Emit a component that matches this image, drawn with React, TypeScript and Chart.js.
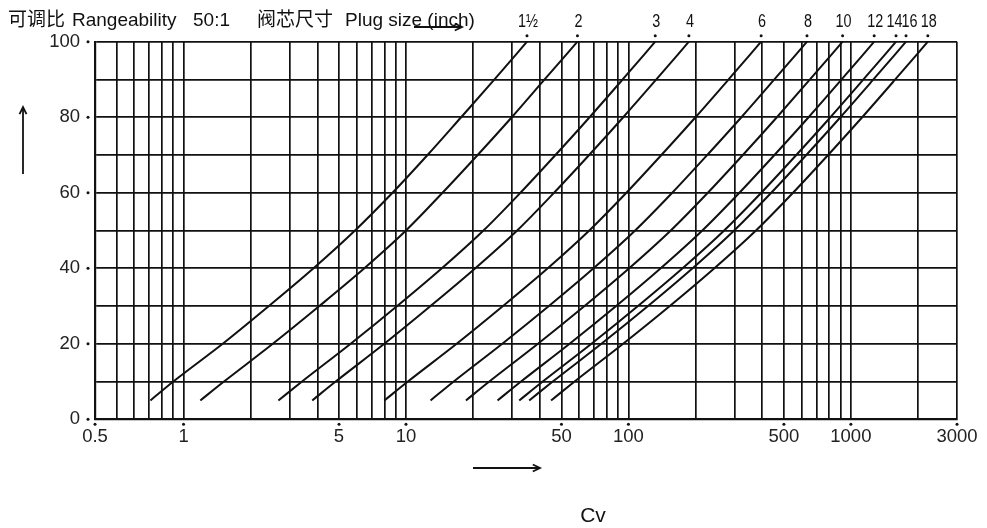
import React, { useEffect, useRef } from 'react';
import { Chart, registerables } from 'chart.js';

Chart.register(...registerables);

// Valve opening (%) at which Cv values were read
const openingPct = [5, 10, 20, 30, 40, 50, 60, 70, 80, 90, 100];

// Plug sizes (inch)
const plugSizes = ['1½', '2', '3', '4', '6', '8', '10', '12', '14', '16', '18'];

// Cv values at openingPct
const cv1_5 = [0.71, 0.9, 1.5, 2.42, 3.84, 5.9, 8.7, 12.5, 17.7, 25, 35];
const cv2 = [1.19, 1.52, 2.52, 4.08, 6.5, 10, 14.6, 21, 29.9, 42, 59];
const cv3 = [2.67, 3.41, 5.64, 9.13, 14.5, 22.3, 32.7, 47, 66.9, 94.2, 132];
const cv4 = [3.79, 4.83, 7.99, 12.9, 20.5, 31.6, 46.3, 66.6, 94.8, 133.5, 187];
const cv6 = [8.0, 10.2, 16.9, 27.3, 43.4, 66.7, 97.9, 140.7, 200.3, 282, 395];
const cv8 = [12.9, 16.4, 27.1, 43.9, 69.7, 107.2, 157.4, 226.2, 322, 453, 635];
const cv10 = [18.6, 23.7, 39.2, 63.5, 100.8, 155, 227.5, 327, 465, 655, 918];
const cv12 = [25.8, 32.9, 54.4, 88.1, 139.7, 214.9, 315.5, 453.4, 645.4, 908.7, 1273];
const cv14 = [32.3, 41.2, 68.2, 110.4, 175.2, 269.4, 395.5, 568.5, 809.2, 1139, 1596];
const cv16 = [35.8, 45.7, 75.6, 122.5, 194.3, 298.8, 438.6, 630.5, 897.4, 1263, 1770];
const cv18 = [44.9, 57.3, 94.7, 153.5, 243.5, 374.4, 549.6, 790, 1124.5, 1583, 2218];

const cvSeries = [cv1_5, cv2, cv3, cv4, cv6, cv8, cv10, cv12, cv14, cv16, cv18];

// X axis (Cv, logarithmic) grid lines
const xGridValues = [
  0.4, 0.5, 0.6, 0.7, 0.8, 0.9,
  1, 2, 3, 4, 5, 6, 7, 8, 9,
  10, 20, 30, 40, 50, 60, 70, 80, 90,
  100, 200, 300, 400, 500, 600, 700, 800, 900,
  1000, 2000, 3000,
];
const xTickLabelValues = [0.4, 1, 5, 10, 50, 100, 500, 1000, 3000];
const xTickLabels = ['0.5', '1', '5', '10', '50', '100', '500', '1000', '3000'];

// Y axis (opening %)
const yLabelValues = [0, 20, 40, 60, 80, 100];

const titleParts = ['可调比', 'Rangeability', '50:1', '阀芯尺寸', 'Plug size (inch)'];
const xAxisTitle = 'Cv';

const FONT = '"Liberation Sans", Arial, "Noto Sans CJK SC", sans-serif';
const INK = '#111';

function dot(ctx: CanvasRenderingContext2D, x: number, y: number, r: number) {
  ctx.beginPath();
  ctx.arc(x, y, r, 0, Math.PI * 2);
  ctx.fill();
}

function arrow(ctx: CanvasRenderingContext2D, x1: number, y1: number, x2: number, y2: number) {
  ctx.beginPath();
  ctx.moveTo(x1, y1);
  ctx.lineTo(x2, y2);
  ctx.stroke();
  const a = Math.atan2(y2 - y1, x2 - x1);
  const L = 8;
  ctx.beginPath();
  ctx.moveTo(x2 - L * Math.cos(a - 0.45), y2 - L * Math.sin(a - 0.45));
  ctx.lineTo(x2, y2);
  ctx.lineTo(x2 - L * Math.cos(a + 0.45), y2 - L * Math.sin(a + 0.45));
  ctx.stroke();
}

const overlayPlugin = {
  id: 'overlay',
  afterDraw(chart: any) {
    const ctx: CanvasRenderingContext2D = chart.ctx;
    const xs = chart.scales.x;
    const ys = chart.scales.y;
    const area = chart.chartArea;
    ctx.save();
    ctx.fillStyle = INK;
    ctx.strokeStyle = INK;
    ctx.lineWidth = 1.8;

    xTickLabelValues.forEach((v) => dot(ctx, xs.getPixelForValue(v), area.bottom + 5, 1.5));
    yLabelValues.forEach((v) => dot(ctx, area.left - 7, ys.getPixelForValue(v), 1.5));

    // plug size labels (condensed) above end dots; spread apart where crowded
    const ends = cvSeries.map((s) => xs.getPixelForValue(s[s.length - 1]));
    const pos = ends.map((p) => p + 1);
    const minGap = 15;
    for (let it = 0; it < 20; it++) {
      for (let i = 1; i < pos.length; i++) {
        const d = pos[i] - pos[i - 1];
        if (d < minGap) {
          const sh = (minGap - d) / 2;
          pos[i - 1] -= sh;
          pos[i] += sh;
        }
      }
    }
    ctx.font = '18px ' + FONT;
    ctx.textAlign = 'center';
    ctx.textBaseline = 'middle';
    ends.forEach((px, i) => {
      dot(ctx, px, area.top - 6, 1.5);
      ctx.save();
      ctx.translate(pos[i], area.top - 20);
      ctx.scale(0.8, 1);
      ctx.fillText(plugSizes[i], 0, 0);
      ctx.restore();
    });

    // title
    ctx.textAlign = 'left';
    ctx.textBaseline = 'alphabetic';
    ctx.font = '19px ' + FONT;
    const titleX = [8, 72, 193, 257, 345];
    titleParts.forEach((t, i) => ctx.fillText(t, titleX[i], 26));

    // arrows
    ctx.lineWidth = 1.8;
    arrow(ctx, 414, 27, 462, 27);
    arrow(ctx, 23, 174, 23, 107);
    arrow(ctx, 473, 468, 540, 468);

    // axis title
    ctx.textAlign = 'center';
    ctx.textBaseline = 'middle';
    ctx.font = '21px ' + FONT;
    ctx.fillText(xAxisTitle, 593, 516);
    ctx.restore();
  },
};

export default function App() {
  const ref = useRef<HTMLCanvasElement | null>(null);
  useEffect(() => {
    if (!ref.current) return;
    const chart = new Chart(ref.current, {
      type: 'line',
      data: {
        datasets: cvSeries.map((s, i) => ({
          label: plugSizes[i],
          data: s.map((cv, j) => ({ x: cv, y: openingPct[j] })),
          borderColor: INK,
          borderWidth: 2,
          pointRadius: 0,
          fill: false,
          cubicInterpolationMode: 'monotone' as const,
        })),
      },
      options: {
        animation: false,
        responsive: false,
        devicePixelRatio: 1,
        parsing: false as any,
        layout: { padding: { top: 41.7, right: 30, bottom: 0, left: 0 } },
        plugins: { legend: { display: false }, tooltip: { enabled: false }, title: { display: false } },
        scales: {
          x: {
            type: 'logarithmic',
            min: 0.4,
            max: 3000,
            afterBuildTicks: (axis: any) => {
              axis.ticks = xGridValues.map((v) => ({ value: v }));
            },
            afterFit: (axis: any) => {
              axis.height = 108.7;
            },
            ticks: {
              autoSkip: false,
              maxRotation: 0,
              minRotation: 0,
              padding: 7,
              color: '#222',
              font: { family: FONT, size: 18.5 },
              callback: (v: any) => {
                const k = xTickLabelValues.indexOf(Number(v));
                return k >= 0 ? xTickLabels[k] : '';
              },
            },
            grid: { color: INK, lineWidth: 1.7, drawTicks: false },
            border: { display: true, color: INK, width: 2.2 },
          },
          y: {
            type: 'linear',
            min: 0,
            max: 100,
            afterFit: (axis: any) => {
              axis.width = 95;
            },
            ticks: {
              stepSize: 10,
              padding: 15,
              color: '#222',
              font: { family: FONT, size: 18.5 },
              callback: (v: any) => (yLabelValues.includes(Number(v)) ? String(v) : ''),
            },
            grid: { color: INK, lineWidth: 1.7, drawTicks: false },
            border: { display: true, color: INK, width: 2.2 },
          },
        },
      },
      plugins: [overlayPlugin],
    });
    return () => chart.destroy();
  }, []);
  return (
    <div style={{ position: 'absolute', left: 0, top: 0, width: 987, height: 528, background: '#fff' }}>
      <canvas ref={ref} width={987} height={528} />
    </div>
  );
}
